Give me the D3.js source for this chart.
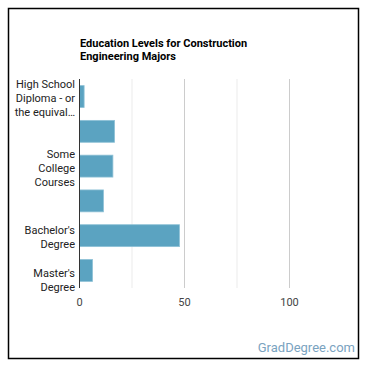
<!DOCTYPE html>
<html>
<head>
<meta charset="utf-8">
<script src="https://cdn.jsdelivr.net/npm/d3@7"></script>
<style>
  body { margin: 0; background: #fff; }
  svg { font-family: Roboto, "Noto Sans", sans-serif; }
</style>
</head>
<body>
<div id="chart"></div>
<script>
// Chart data
const titleLines = ["Education Levels for Construction", "Engineering Majors"];
const categories = ["High School Diploma", "Post-Secondary Certificate", "Some College Courses",
                    "Associate's Degree", "Bachelor's Degree", "Master's Degree"];
const labelLines = [
    ["High School", "Diploma - or", "the equival…"],
    [],
    ["Some", "College", "Courses"],
    [],
    ["Bachelor's", "Degree"],
    ["Master's", "Degree"]
];
const values = [2.2, 16.7, 15.9, 11.4, 47.6, 6.2];
const xTicks = [0, 50, 100];
const minorTicks = [25, 75];

const width = 370, height = 370;
const plot = { left: 79.5, right: 342, top: 79, bottom: 288 };

const svg = d3.select('#chart')
    .append('svg')
    .attr('width', width)
    .attr('height', height);

// frame
svg.append('rect')
    .attr('x', 8.5).attr('y', 8.5)
    .attr('width', 350).attr('height', 350)
    .attr('fill', '#fff')
    .attr('stroke', '#000')
    .attr('stroke-width', 1.5);

// title
svg.append('g')
    .selectAll('text')
    .data(titleLines)
    .join('text')
    .attr('x', 80)
    .attr('y', (d, i) => 47 + i * 13)
    .style('font-size', '11px')
    .style('font-weight', 'bold')
    .attr('fill', '#000')
    .text(d => d);

const xScale = d3.scaleLinear()
    .domain([0, 125])
    .range([plot.left, plot.right]);

const yScale = d3.scaleBand()
    .domain(categories)
    .range([plot.top, plot.bottom])
    .paddingInner(0.37)
    .paddingOuter(0.19);

// gridlines
svg.append('g')
    .selectAll('line')
    .data(minorTicks)
    .join('line')
    .attr('x1', d => xScale(d)).attr('x2', d => xScale(d))
    .attr('y1', plot.top).attr('y2', plot.bottom)
    .attr('stroke', '#ebebeb');

svg.append('g')
    .selectAll('line')
    .data(xTicks.slice(1))
    .join('line')
    .attr('x1', d => xScale(d)).attr('x2', d => xScale(d))
    .attr('y1', plot.top).attr('y2', plot.bottom)
    .attr('stroke', '#cccccc');

// bars
svg.append('g')
    .selectAll('rect')
    .data(values)
    .join('rect')
    .attr('x', xScale(0))
    .attr('y', (d, i) => yScale(categories[i]))
    .attr('width', d => xScale(d) - xScale(0))
    .attr('height', yScale.bandwidth())
    .attr('fill', '#5ba3c1')
    .attr('stroke', '#8ec1d6')
    .attr('stroke-width', 0.8);

// baseline
svg.append('line')
    .attr('x1', xScale(0)).attr('x2', xScale(0))
    .attr('y1', plot.top).attr('y2', plot.bottom)
    .attr('stroke', '#333')
    .attr('stroke-width', 1);

// x tick labels
svg.append('g')
    .selectAll('text')
    .data(xTicks)
    .join('text')
    .attr('x', d => xScale(d))
    .attr('y', 306)
    .attr('text-anchor', 'middle')
    .style('font-size', '11px')
    .attr('fill', '#444')
    .text(d => d);

// category labels (multi-line, right aligned)
const lineH = 14;
const labels = svg.append('g');
labelLines.forEach((lines, i) => {
    if (!lines.length) return;
    let cy = yScale(categories[i]) + yScale.bandwidth() / 2 + 1.5;
    if (i === labelLines.length - 1) cy += 8; // last label sits a bit lower
    const top = cy - (lines.length - 1) * lineH / 2;
    labels.selectAll(null)
        .data(lines)
        .join('text')
        .attr('x', 75)
        .attr('y', (d, j) => top + j * lineH + 4)
        .attr('text-anchor', 'end')
        .style('font-size', '11px')
        .attr('fill', '#222')
        .text(d => d);
});

// watermark
svg.append('text')
    .attr('x', 355)
    .attr('y', 352)
    .attr('text-anchor', 'end')
    .style('font-size', '13px')
    .attr('fill', '#7aa3bf')
    .text('GradDegree.com');
</script>
</body>
</html>
